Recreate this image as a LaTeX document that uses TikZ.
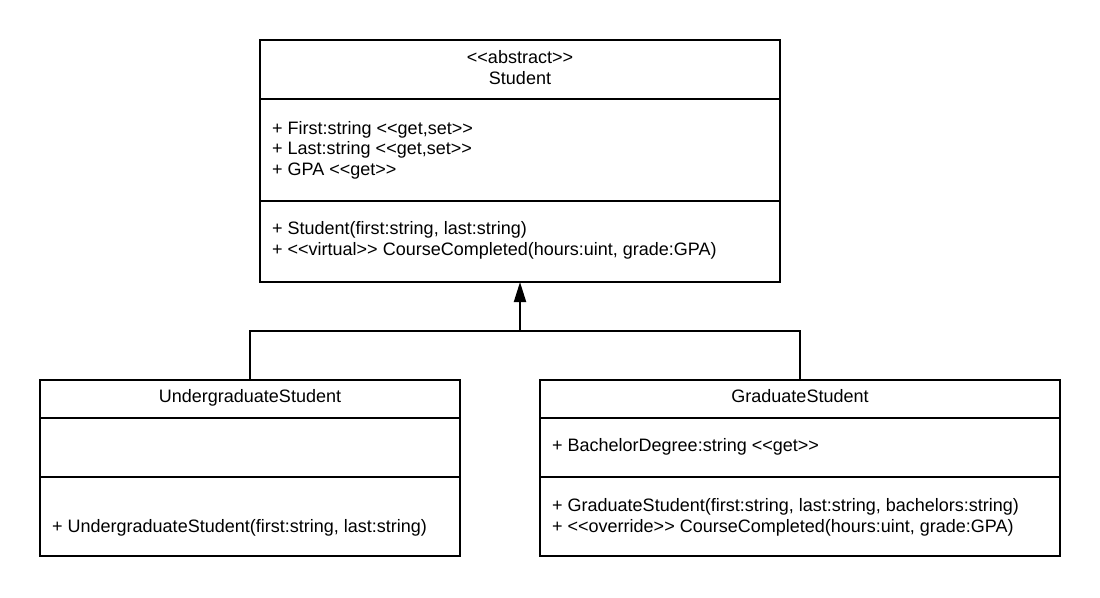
\documentclass[tikz,border=0pt]{standalone}
\usepackage{fontspec}
\setmainfont{Liberation Sans}
\usetikzlibrary{arrows.meta}
\newcommand\uopen{<\kern0pt<}
\newcommand\uclose{>\kern0pt>}
\begin{document}
\begin{tikzpicture}[x=1pt,y=-1pt,
  classbox/.style={draw,line width=2pt,inner sep=0pt,outer sep=0pt,anchor=north west},
  txt/.style={anchor=base west,inner sep=0pt,font=\fontsize{18}{20.5}\selectfont},
  ttl/.style={anchor=base,inner sep=0pt,font=\fontsize{18}{20.5}\selectfont},
  sepline/.style={line width=2pt},
  conn/.style={line width=2pt}]
\useasboundingbox (0,0) rectangle (1100,597);
% Student
\node[classbox,minimum width=520pt,minimum height=242pt] (student) at (260,40) {};
\coordinate (s1) at (260,99);
\coordinate (s2) at (260,201);
\draw[sepline] (s1) -- (s1 -| student.east);
\draw[sepline] (s2) -- (s2 -| student.east);
\node[ttl] (sst) at (520,63) {\uopen abstract\uclose};
\node[ttl] (sname) at (520,84) {Student};
\node[txt] (sa1) at (272,134) {+ First:string \uopen get,set\uclose};
\node[txt] (sa2) at (272,154.5) {+ Last:string \uopen get,set\uclose};
\node[txt] (sa3) at (272,175) {+ GPA \uopen get\uclose};
\node[txt] (sm1) at (272,234) {+ Student(first:string, last:string)};
\node[txt] (sm2) at (272,255) {+ \uopen virtual\uclose{} CourseCompleted(hours:uint, grade:GPA)};
% Undergraduate
\node[classbox,minimum width=420pt,minimum height=176pt] (ug) at (40,380) {};
\coordinate (u1) at (40,418);
\coordinate (u2) at (40,477);
\draw[sepline] (u1) -- (u1 -| ug.east);
\draw[sepline] (u2) -- (u2 -| ug.east);
\node[ttl] (uname) at (250,402) {UndergraduateStudent};
\node[txt] (um1) at (52,532) {+ UndergraduateStudent(first:string, last:string)};
% Graduate
\node[classbox,minimum width=520pt,minimum height=176pt] (gs) at (540,380) {};
\coordinate (g1) at (540,418);
\coordinate (g2) at (540,477);
\draw[sepline] (g1) -- (g1 -| gs.east);
\draw[sepline] (g2) -- (g2 -| gs.east);
\node[ttl] (gname) at (800,402) {GraduateStudent};
\node[txt] (ga1) at (552,451) {+ BachelorDegree:string \uopen get\uclose};
\node[txt] (gm1) at (552,511) {+ GraduateStudent(first:string, last:string, bachelors:string)};
\node[txt] (gm2) at (552,532) {+ \uopen override\uclose{} CourseCompleted(hours:uint, grade:GPA)};
% connectors
\coordinate (j) at (520,331);
\draw[conn] (ug.north) |- (j) -| (gs.north);
\draw[conn,-{Triangle[length=20pt,width=12pt]}] (j) -- (student.south);
\end{tikzpicture}
\end{document}
